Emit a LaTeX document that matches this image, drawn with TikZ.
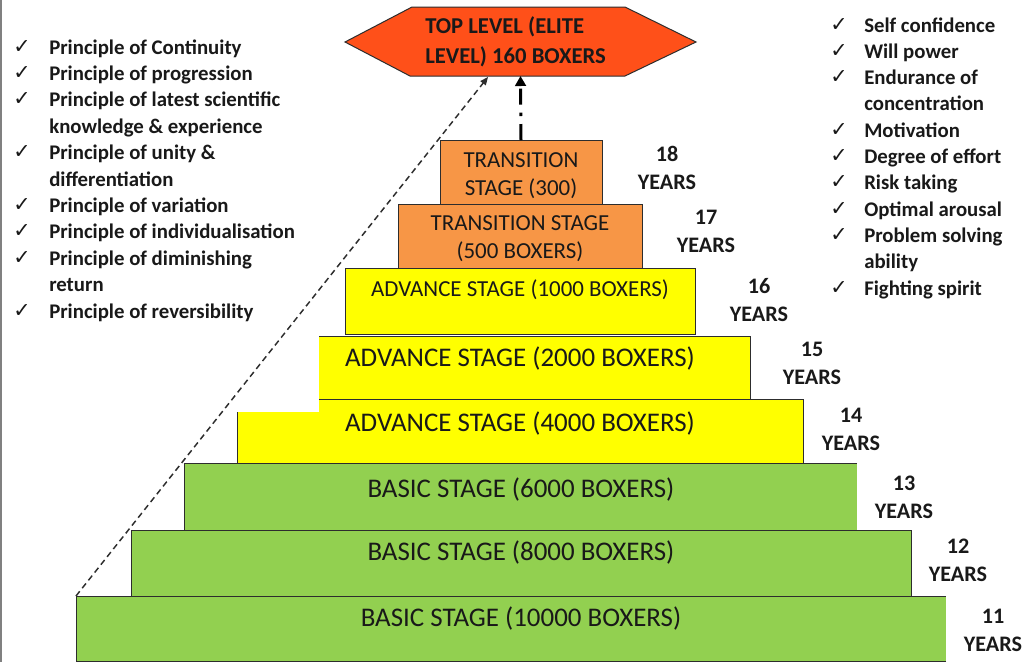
\documentclass[tikz,border=0pt]{standalone}
\usepackage{fontspec}
\setmainfont{Carlito}
\newfontfamily\chkfont{DejaVu Sans}
\usetikzlibrary{arrows.meta,fit}
\definecolor{grn}{RGB}{146,208,80}
\definecolor{ylw}{RGB}{255,255,0}
\definecolor{org}{RGB}{247,150,70}
\definecolor{hexc}{RGB}{255,80,25}
\definecolor{edge}{RGB}{45,45,45}
\definecolor{txt}{RGB}{25,25,25}
\definecolor{frame}{RGB}{128,128,128}
\begin{document}
\begin{tikzpicture}[x=0.75pt,y=-0.75pt,
  boxfill/.style={inner sep=0pt, outer sep=0pt},
  boxline/.style={draw=edge, line width=0.75pt},
  bigl/.style={anchor=base, inner sep=0pt, text=txt, font=\fontsize{20.2}{22}\selectfont},
  midl/.style={anchor=base, inner sep=0pt, text=txt, font=\fontsize{17.2}{20}\selectfont},
  hexl/.style={anchor=base west, inner sep=0pt, text=txt, font=\bfseries\fontsize{17}{20}\selectfont},
  yrl/.style={anchor=base, inner sep=0pt, text=txt, font=\bfseries\fontsize{16.6}{18}\selectfont},
  listtxt/.style={anchor=base west, inner sep=0pt, text=txt, font=\bfseries\fontsize{15.6}{18}\selectfont},
  chk/.style={anchor=base, inner sep=0pt, text=txt, font=\chkfont\fontsize{15.5}{17}\selectfont},
  dashdotarrow/.style={draw=black, line width=2.25pt, dash pattern=on 12pt off 6pt on 2.5pt off 6pt, -{Triangle[length=7.5pt,width=8pt]}},
  dasharrow/.style={draw=edge, line width=1.1pt, dash pattern=on 4.5pt off 3pt, -{Triangle[length=6pt,width=5pt]}}
]
\useasboundingbox (0,0) rectangle (1026,662);
\fill[white] (0,0) rectangle (1026,662);
\draw[frame, line width=1.2pt] (0.8,0) -- (0.8,662);

% ---- pyramid boxes ----
\node[boxfill, fill=grn, boxline, fit={(131,530)(911,596)}] (b8000) {};
\node[boxfill, fill=grn, fit={(76,596)(946,661)}] (b10000) {};
\draw[boxline] (b10000.south east) -- (b10000.south west) -- (b10000.north west) -- (b10000.north east);
\node[boxfill, fill=grn, fit={(184,463)(857,530)}] (b6000) {};
\draw[boxline] (b6000.south east) -- (b6000.south west) -- (b6000.north west) -- (b6000.north east);
\node[boxfill, fill=ylw, boxline, fit={(237,399)(803,463)}] (a4000) {};
\fill[white] (235.5,398) rectangle (319,412);
\node[boxfill, fill=ylw, fit={(319,336)(750,399)}] (a2000) {};
\draw[boxline] (a2000.north west) -- (a2000.north east) -- (a2000.south east) -- (a2000.south west);
\node[boxfill, fill=ylw, boxline, fit={(345,268)(695,334)}] (a1000) {};
\node[boxfill, fill=org, boxline, fit={(398,204)(642,268)}] (t500) {};
\node[boxfill, fill=org, boxline, fit={(440,140)(602,204)}] (t300) {};

% ---- top hexagon ----
\filldraw[fill=hexc, boxline] (345,42) -- (412,7) -- (625,7) -- (696,42) -- (625,76) -- (410,76) -- cycle;
\node[boxfill, fit={(345,7)(696,76)}] (top) {};
\node[hexl] (top1) at (425,33) {TOP LEVEL (ELITE};
\node[hexl] (top2) at (425,63) {LEVEL) 160 BOXERS};

% ---- box labels ----
\node[midl] (t300a) at (521,167) {TRANSITION};
\node[midl] (t300b) at (521,195) {STAGE (300)};
\node[midl] (t500a) at (520,230) {TRANSITION STAGE};
\node[midl] (t500b) at (520,258) {(500 BOXERS)};
\node[midl] (a1000l) at (520,296) {ADVANCE STAGE (1000 BOXERS)};
\node[bigl] (a2000l) at (520,366) {ADVANCE STAGE (2000 BOXERS)};
\node[bigl] (a4000l) at (520,431) {ADVANCE STAGE (4000 BOXERS)};
\node[bigl] (b6000l) at (521,497) {BASIC STAGE (6000 BOXERS)};
\node[bigl] (b8000l) at (521,560) {BASIC STAGE (8000 BOXERS)};
\node[bigl] (b10000l) at (521,626) {BASIC STAGE (10000 BOXERS)};

% ---- year labels ----
\foreach \n/\x/\y in {18/667/161, 17/706/224, 16/759/293, 15/812/356, 14/851/422, 13/904/490, 12/958/553, 11/993/623}{
  \node[yrl] (age\n) at (\x,\y) {\n};
  \node[yrl] (yrs\n) at (\x,\y+28) {YEARS};
}

% ---- left list ----
\foreach \t [count=\i from 0] in {Principle of Continuity, Principle of progression, Principle of latest scientific, knowledge \& experience, Principle of unity \&, differentiation, Principle of variation, Principle of individualisation, Principle of diminishing, return, Principle of reversibility}
  \node[listtxt] (L\i) at (49,54+26.4*\i) {\t};
\foreach \i in {0,1,2,4,6,7,8,10}
  \node[chk] (LC\i) at (22,53+26.4*\i) {✓};

% ---- right list ----
\foreach \t [count=\i from 0] in {Self confidence, Will power, Endurance of, concentration, Motivation, Degree of effort, Risk taking, Optimal arousal, Problem solving, ability, Fighting spirit}
  \node[listtxt] (R\i) at (864,32+26.3*\i) {\t};
\foreach \i in {0,1,2,4,5,6,7,8,10}
  \node[chk] (RC\i) at (839,31+26.3*\i) {✓};

% ---- connectors ----
\coordinate (dashend) at (488,77);
\draw[dashdotarrow] (t300.north) -- (top.south);
\draw[dasharrow] (b10000.north west) -- (dashend);
\end{tikzpicture}
\end{document}
